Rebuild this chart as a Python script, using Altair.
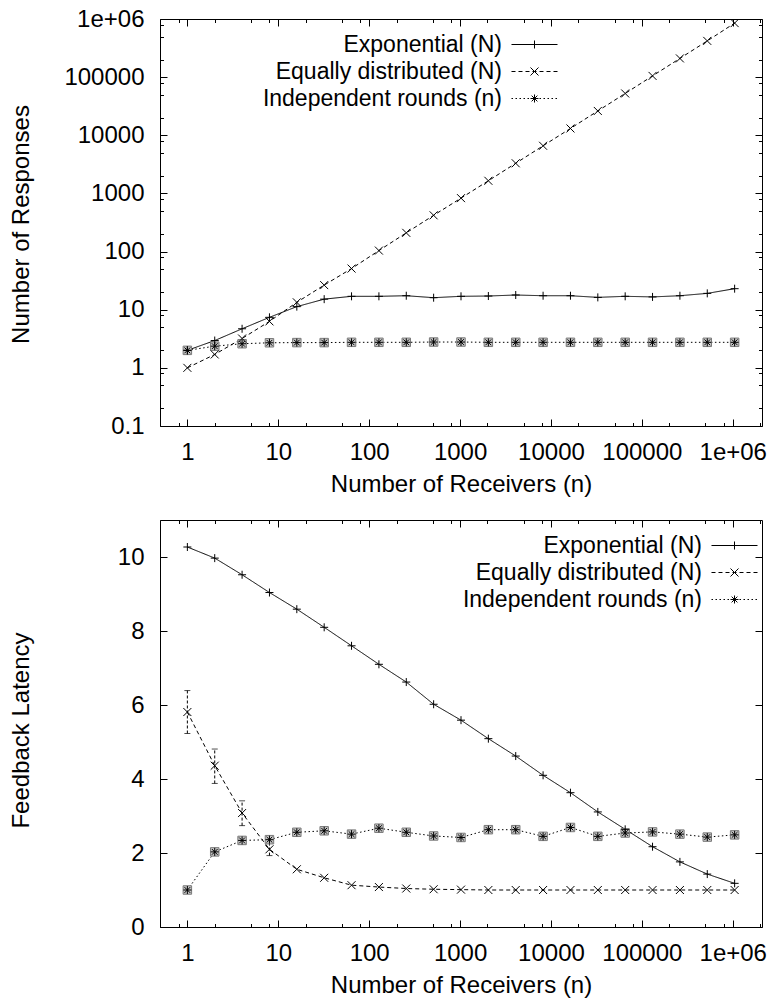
import altair as alt
import pandas as pd

FONT = "Liberation Sans"
FS = 24
LEG_FS = 23

# ---------------- data ----------------
receivers = [1, 2, 4, 8, 16, 32, 64, 128, 256, 512, 1024, 2048, 4096, 8192,
             16384, 32768, 65536, 131072, 262144, 524288, 1048576]
series_names = ["Exponential (N)", "Equally distributed (N)", "Independent rounds (n)"]

resp_exponential = [2.0, 2.95, 4.7, 7.4, 11.3, 15.2, 17.0, 17.0, 17.4, 16.1, 17.0,
                    17.2, 17.9, 17.4, 17.4, 16.3, 17.0, 16.6, 17.4, 19.1, 23.0]
resp_equal = [1.0, 1.7, 3.2, 6.3, 13.4, 26.5, 51.0, 104.0, 210.0, 420.0, 830.0,
              1650.0, 3300.0, 6600.0, 13100.0, 26200.0, 52400.0, 105000.0,
              210000.0, 420000.0, 850000.0]
resp_independent = [2.0, 2.36, 2.6, 2.7, 2.72, 2.72, 2.75, 2.75, 2.75, 2.78, 2.78,
                    2.75, 2.75, 2.75, 2.75, 2.75, 2.75, 2.75, 2.75, 2.75, 2.75]

lat_exponential = [10.27, 9.97, 9.52, 9.04, 8.59, 8.10, 7.60, 7.10, 6.62, 6.02, 5.59,
                   5.09, 4.62, 4.10, 3.63, 3.11, 2.64, 2.17, 1.76, 1.43, 1.18]
lat_equal = [5.81, 4.36, 3.08, 2.10, 1.56, 1.33, 1.13, 1.08, 1.04, 1.02, 1.01,
             1.0, 1.0, 1.0, 1.0, 1.0, 1.0, 1.0, 1.0, 1.0, 1.0]
lat_independent = [1.0, 2.03, 2.34, 2.36, 2.56, 2.60, 2.51, 2.67, 2.56, 2.46, 2.42,
                   2.63, 2.63, 2.45, 2.69, 2.45, 2.54, 2.57, 2.51, 2.43, 2.49]

err_receivers = [1, 2, 4, 8]
err_low = [5.23, 3.88, 2.74, 1.93]
err_high = [6.39, 4.81, 3.41, 2.28]

x_major = [1, 10, 100, 1000, 10000, 100000, 1000000]
x_major_labels = ["1", "10", "100", "1000", "10000", "100000", "1e+06"]
y1_major = [0.1, 1, 10, 100, 1000, 10000, 100000, 1000000]
y1_major_labels = ["0.1", "1", "10", "100", "1000", "10000", "100000", "1e+06"]
y2_major = [0, 2, 4, 6, 8, 10]
y2_major_labels = ["0", "2", "4", "6", "8", "10"]

minor_steps = [2, 5, 8]
x_minor = [round(m * 10.0 ** e, 6) for e in range(-1, 7) for m in minor_steps
           if 0.5 <= m * 10.0 ** e <= 2097152]
y1_minor = [round(m * 10.0 ** e, 6) for e in range(-1, 6) for m in minor_steps]

# ---------------- styling helpers ----------------
W, H = 602, 407
T_MAJ, T_MIN = 7, 3.5

x_scale = alt.Scale(type="log", domain=[0.5, 2097152], nice=False)
y1_scale = alt.Scale(type="log", domain=[0.1, 1000000], nice=False)
y2_scale = alt.Scale(domain=[0, 11], nice=False, zero=False)


def label_expr(values, labels):
    expr = "''"
    for v, l in reversed(list(zip(values, labels))):
        expr = f"datum.value == {v} ? '{l}' : ({expr})"
    return expr


def axis(orient, values, size, labels=None, title=None, title_x=None, title_y=None):
    kw = dict(orient=orient, values=values, tickSize=size, offset=-size,
              domain=False, grid=False, ticks=True, tickColor="black",
              tickWidth=1)
    if labels is not None:
        kw.update(labels=True, labelExpr=label_expr(values, labels),
                  labelFont=FONT, labelFontSize=FS, labelColor="black",
                  labelOverlap=False, labelFlush=False, labelBound=False,
                  labelPadding=16 if orient == "left" else 14)
    else:
        kw.update(labels=False)
    if title is not None:
        kw.update(title=title, titleFont=FONT, titleFontSize=FS,
                  titleFontWeight="normal", titleColor="black")
        if title_x is not None:
            kw.update(titleX=title_x)
        if title_y is not None:
            kw.update(titleY=title_y)
    else:
        kw.update(title=None)
    return alt.Axis(**kw)


PLUS = "M-1,0L1,0M0,-1L0,1"
XMARK = "M-1,-1L1,1M-1,1L1,-1"
STAR = "M-1,0L1,0M0,-1L0,1M-0.72,-0.72L0.72,0.72M-0.72,0.72L0.72,-0.72"

# legend key: a 46 px line sample drawn around a 22 px symbol cell
LEG_W = 46.0
CELL = 22.0
UNIT = CELL / 2


def dashed(on, off):
    segs, pos = [], 0.0
    while pos < LEG_W:
        end = min(pos + on, LEG_W)
        a = (pos - LEG_W / 2) / UNIT
        b = (end - LEG_W / 2) / UNIT
        segs.append(f"M{a:.3f},0L{b:.3f},0")
        pos = end + off
    return "".join(segs)


m = 4.0 / UNIT
s = m * 0.72
LEG_EXP = dashed(LEG_W, 0) + f"M0,{-m:.3f}L0,{m:.3f}"
LEG_EQ = dashed(4, 3) + f"M{-m:.3f},{-m:.3f}L{m:.3f},{m:.3f}M{-m:.3f},{m:.3f}L{m:.3f},{-m:.3f}"
LEG_IND = dashed(1.5, 2.5) + (f"M{-m:.3f},0L{m:.3f},0M0,{-m:.3f}L0,{m:.3f}"
                              f"M{-s:.3f},{-s:.3f}L{s:.3f},{s:.3f}M{-s:.3f},{s:.3f}L{s:.3f},{-s:.3f}")


def long_df(a, b, c):
    rows = []
    for name, vals in zip(series_names, [a, b, c]):
        for n, v in zip(receivers, vals):
            rows.append({"n": n, "value": v, "series": name})
    return pd.DataFrame(rows)


def panel(df, y_scale, y_major, y_labels, y_minor, y_title, y_title_y,
          legend_x, legend_y, err_df=None):
    dash = alt.StrokeDash("series:N",
                          scale=alt.Scale(domain=series_names,
                                          range=[[1, 0], [4, 3], [1.5, 2.5]]),
                          legend=None)
    lines = alt.Chart(df).mark_line(color="black", strokeWidth=1).encode(
        x=alt.X("n:Q", scale=x_scale,
                axis=axis("bottom", x_major, T_MAJ, x_major_labels,
                          "Number of Receivers (n)", title_y=53)),
        y=alt.Y("value:Q", scale=y_scale,
                axis=axis("left", y_major, T_MAJ, y_labels, y_title,
                          title_x=-134, title_y=y_title_y)),
        strokeDash=dash,
    )
    squares = alt.Chart(df).transform_filter(
        alt.datum.series == series_names[2]
    ).mark_point(shape="square", filled=True, fill="#c4c4c4", stroke="#7a7a7a",
                 strokeWidth=1, size=72, opacity=1).encode(
        x=alt.X("n:Q", scale=x_scale, axis=axis("bottom", x_minor, T_MIN)),
        y=alt.Y("value:Q", scale=y_scale, axis=axis("left", y_minor, T_MIN)),
    )
    points = alt.Chart(df).mark_point(filled=False, color="black", strokeWidth=1,
                                      size=64, opacity=1).encode(
        x=alt.X("n:Q", scale=x_scale, axis=axis("top", x_major, T_MAJ)),
        y=alt.Y("value:Q", scale=y_scale, axis=axis("right", y_major, T_MAJ)),
        shape=alt.Shape("series:N",
                        scale=alt.Scale(domain=series_names, range=[PLUS, XMARK, STAR]),
                        legend=None),
    )
    # legend-only layer (no visible data: filtered empty, scale domain is explicit)
    legend_layer = alt.Chart(df).transform_filter(
        alt.datum.n < 0
    ).mark_point(filled=False, color="black", strokeWidth=1).encode(
        x=alt.X("n:Q", scale=x_scale, axis=axis("top", x_minor, T_MIN)),
        y=alt.Y("value:Q", scale=y_scale, axis=axis("right", y_minor, T_MIN)),
        shape=alt.Shape("series:N",
                        scale=alt.Scale(domain=series_names,
                                        range=[LEG_EXP, LEG_EQ, LEG_IND]),
                        legend=alt.Legend(
                            orient="none", legendX=legend_x, legendY=legend_y,
                            title=None, padding=0,
                            labelFont=FONT, labelFontSize=LEG_FS, labelColor="black",
                            labelAlign="right",
                            labelOffset={"expr": str(-(CELL + LEG_W / 2 - UNIT + 10))},
                            labelLimit=500, symbolSize=CELL * CELL,
                            symbolStrokeWidth=1, symbolStrokeColor="black",
                            symbolFillColor="transparent",
                            symbolOpacity=1, rowPadding=3)),
    )
    layers = [lines, squares, points, legend_layer]
    if err_df is not None:
        bars = alt.Chart(err_df).mark_rule(color="black", strokeWidth=1,
                                           strokeDash=[3, 2]).encode(
            x=alt.X("n:Q", scale=x_scale, axis=None),
            y=alt.Y("low:Q", scale=y_scale, axis=None),
            y2="high:Q",
        )
        cap_lo = alt.Chart(err_df).mark_tick(color="black", orient="horizontal",
                                             size=6, thickness=1).encode(
            x=alt.X("n:Q", scale=x_scale, axis=None),
            y=alt.Y("low:Q", scale=y_scale, axis=None),
        )
        cap_hi = alt.Chart(err_df).mark_tick(color="black", orient="horizontal",
                                             size=6, thickness=1).encode(
            x=alt.X("n:Q", scale=x_scale, axis=None),
            y=alt.Y("high:Q", scale=y_scale, axis=None),
        )
        layers = [bars, cap_lo, cap_hi] + layers
    return alt.layer(*layers).resolve_scale(shape="independent").resolve_axis(
        x="independent", y="independent").properties(width=W, height=H)


top_df = long_df(resp_exponential, resp_equal, resp_independent)
bot_df = long_df(lat_exponential, lat_equal, lat_independent)
err_df = pd.DataFrame({"n": err_receivers, "low": err_low, "high": err_high})

top = panel(top_df, y1_scale, y1_major, y1_major_labels, y1_minor,
            "Number of Responses", 205, 363, 14)
bottom = panel(bot_df, y2_scale, y2_major, y2_major_labels, [],
               "Feedback Latency", 210, 563, 14, err_df)

chart = alt.vconcat(top, bottom, spacing=22).properties(
    padding={"left": 8, "top": 6, "right": 0, "bottom": 0},
    background="white",
).configure_view(stroke="black", strokeWidth=1)

chart.save("out.html", embed_options={"renderer": "svg", "actions": False})
